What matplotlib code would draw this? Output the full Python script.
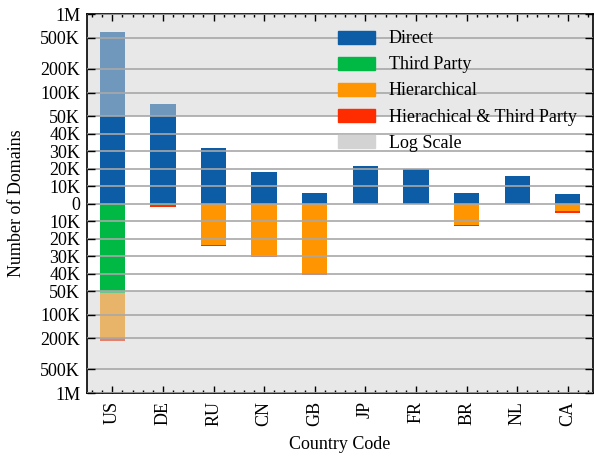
import numpy as np
import matplotlib
matplotlib.use("Agg")
import matplotlib.pyplot as plt
from matplotlib.patches import Patch
from matplotlib.ticker import FixedLocator, MultipleLocator

# domains per country, split by kind of dependency
countries = ["US", "DE", "RU", "CN", "GB", "JP", "FR", "BR", "NL", "CA"]
direct = [590000, 71000, 32000, 18200, 6200, 21600, 19900, 6200, 15900, 5600]
third_party = [52700, 1000, 0, 0, 0, 0, 0, 0, 0, 0]
hierarchical = [145000, 0, 23700, 29800, 39700, 100, 0, 12100, 0, 4500]
hier_third = [20000, 1000, 700, 800, 900, 0, 500, 600, 500, 600]

yticks = [-1e6, -5e5, -2e5, -1e5, -5e4, -4e4, -3e4, -2e4, -1e4, 0,
          1e4, 2e4, 3e4, 4e4, 5e4, 1e5, 2e5, 5e5, 1e6]
ytick_labels = ["1M", "500K", "200K", "100K", "50K", "40K", "30K", "20K", "10K", "0",
                "10K", "20K", "30K", "40K", "50K", "100K", "200K", "500K", "1M"]

LIN_MAX = 50000
DEC = 0.896  # height of one decade, in units of the linear part


def fwd(v):
    v = np.asarray(v, dtype=float)
    a = np.abs(v)
    lin = a / LIN_MAX
    lg = 1 + np.log10(np.maximum(a, LIN_MAX) / LIN_MAX) * DEC
    return np.sign(v) * np.where(a <= LIN_MAX, lin, lg)


def inv(u):
    u = np.asarray(u, dtype=float)
    a = np.abs(u)
    lin = a * LIN_MAX
    lg = LIN_MAX * 10 ** ((np.maximum(a, 1) - 1) / DEC)
    return np.sign(u) * np.where(a <= 1, lin, lg)


plt.rcParams["font.family"] = ["Liberation Serif", "DejaVu Serif"]
plt.rcParams["font.size"] = 13

c_direct = "#0C5DA5"
c_third = "#00B945"
c_hier = "#FF9500"
c_both = "#FF2C00"

fig = plt.figure(figsize=(5.94, 4.57), dpi=100)
ax = fig.add_axes([0.1465, 0.14, 0.852, 0.829])
ax.set_yscale("function", functions=(fwd, inv))

x = np.arange(len(countries))
w = 0.5
tp = -np.array(third_party, dtype=float)
hi = -np.array(hierarchical, dtype=float)
hb = -np.array(hier_third, dtype=float)

ax.bar(x, direct, w, color=c_direct, zorder=1)
ax.bar(x, tp, w, color=c_third, zorder=1)
ax.bar(x, hi, w, bottom=tp, color=c_hier, zorder=1)
ax.bar(x, hb, w, bottom=tp + hi, color=c_both, zorder=1)

# shaded log part
ax.axhspan(LIN_MAX, 1e6, color="lightgray", alpha=0.5, lw=0, zorder=1)
ax.axhspan(-1e6, -LIN_MAX, color="lightgray", alpha=0.5, lw=0, zorder=1)

ax.set_ylim(-1e6, 1e6)
ax.set_xlim(-0.5, 9.5)
ax.yaxis.set_major_locator(FixedLocator(yticks))
ax.set_yticklabels(ytick_labels)
ax.yaxis.set_minor_locator(FixedLocator([]))
ax.set_xticks(x)
ax.set_xticklabels(countries, rotation=90)
ax.xaxis.set_minor_locator(MultipleLocator(0.2))

ax.tick_params(which="both", direction="in", top=True, right=True, width=1.0)
ax.tick_params(which="major", length=5)
ax.tick_params(which="minor", length=2)
ax.tick_params(axis="y", which="major", length=5.5, pad=5)
ax.tick_params(axis="x", which="major", pad=6)
for s in ax.spines.values():
    s.set_linewidth(1.2)

ax.grid(axis="y", color="#a8a8a8", lw=1.2, zorder=2.5)
ax.set_axisbelow(False)

ax.set_xlabel("Country Code", labelpad=7)
ax.set_ylabel("Number of Domains", labelpad=11)

handles = [Patch(color=c_direct, label="Direct"),
           Patch(color=c_third, label="Third Party"),
           Patch(color=c_hier, label="Hierarchical"),
           Patch(color=c_both, label="Hierachical & Third Party"),
           Patch(color="lightgray", label="Log Scale")]
ax.legend(handles=handles, loc="upper right", bbox_to_anchor=(1.0, 1.0),
          frameon=False, handlelength=2.05, handleheight=0.72,
          handletextpad=0.78, labelspacing=0.5)

fig.savefig("out.png", dpi=100)
